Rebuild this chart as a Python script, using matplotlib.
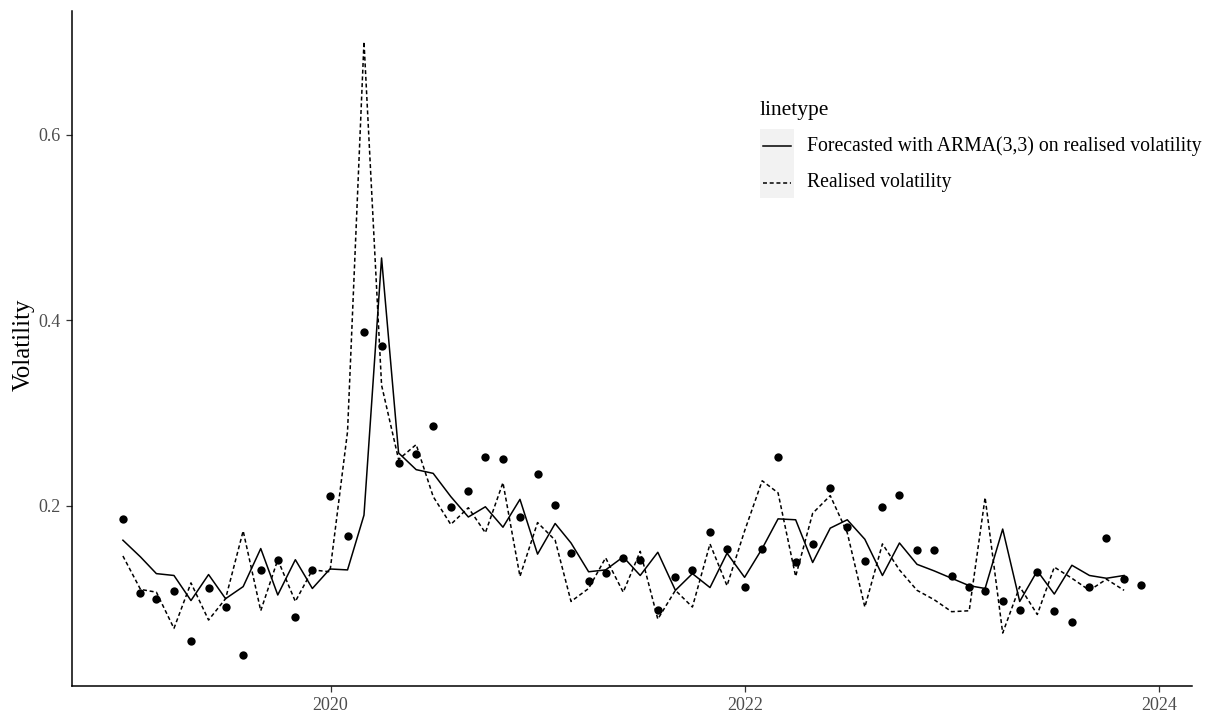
import numpy as np
import pandas as pd
import matplotlib
matplotlib.use("Agg")
import matplotlib.pyplot as plt
import matplotlib.patches as mpatches
from matplotlib.lines import Line2D

# monthly observations, month-end dates
dates = pd.date_range("2018-12-31", periods=60, freq="ME")

# observed volatility (points)
observed = [
    0.186, 0.106, 0.100, 0.108, 0.054, 0.111, 0.091, 0.039, 0.131, 0.142,
    0.080, 0.131, 0.211, 0.168, 0.387, 0.372, 0.246, 0.256, 0.286, 0.199,
    0.216, 0.253, 0.250, 0.188, 0.234, 0.201, 0.149, 0.119, 0.128, 0.144,
    0.142, 0.088, 0.123, 0.131, 0.172, 0.154, 0.113, 0.154, 0.253, 0.139,
    0.159, 0.219, 0.177, 0.141, 0.199, 0.212, 0.152, 0.152, 0.124, 0.113,
    0.108, 0.097, 0.088, 0.129, 0.087, 0.075, 0.113, 0.165, 0.121, 0.115,
]

# ARMA(3,3) forecast (solid)
forecast = [
    0.163, 0.145, 0.127, 0.125, 0.098, 0.126, 0.100, 0.113, 0.154, 0.104,
    0.142, 0.111, 0.132, 0.131, 0.190, 0.467, 0.257, 0.239, 0.235, 0.210,
    0.188, 0.199, 0.177, 0.207, 0.148, 0.181, 0.160, 0.129, 0.131, 0.145,
    0.125, 0.150, 0.109, 0.127, 0.112, 0.149, 0.123, 0.154, 0.186, 0.185,
    0.139, 0.176, 0.185, 0.164, 0.125, 0.160, 0.137, 0.130, 0.122, 0.114,
    0.111, 0.175, 0.097, 0.130, 0.105, 0.136, 0.125, 0.122, 0.125,
]

# realised volatility (dashed)
realised = [
    0.146, 0.110, 0.107, 0.068, 0.117, 0.077, 0.100, 0.173, 0.087, 0.142,
    0.097, 0.131, 0.129, 0.280, 0.700, 0.330, 0.250, 0.266, 0.210, 0.180,
    0.198, 0.171, 0.225, 0.124, 0.182, 0.163, 0.097, 0.111, 0.144, 0.107,
    0.151, 0.078, 0.109, 0.091, 0.159, 0.114, 0.173, 0.227, 0.214, 0.124,
    0.192, 0.211, 0.171, 0.091, 0.159, 0.131, 0.109, 0.099, 0.086, 0.087,
    0.209, 0.063, 0.113, 0.083, 0.134, 0.122, 0.109, 0.121, 0.109,
]

line_labels = ["Forecasted with ARMA(3,3) on realised volatility", "Realised volatility"]

plt.rcParams["font.family"] = ["Liberation Serif", "DejaVu Serif"]
TICK_COL = "#4D4D4D"
DASH = (0, (2.6, 1.8))

W, H = 1210, 715
fig = plt.figure(figsize=(W / 100, H / 100), dpi=100)
ax = fig.add_axes([72 / W, 1 - 686 / H, 1120 / W, 675 / H])

ax.plot(dates[:len(forecast)], forecast, color="black", lw=1.1)
ax.plot(dates[:len(realised)], realised, color="black", lw=1.1, linestyle=DASH)
ax.scatter(dates, observed, s=36, color="black", zorder=3, linewidths=0)

# ggplot-style 5% expansion on both axes
xnum = matplotlib.dates.date2num(dates)
xpad = (xnum[-1] - xnum[0]) * 0.05
ax.set_xlim(xnum[0] - xpad, xnum[-1] + xpad)
allv = np.concatenate([observed, forecast, realised])
ypad = (allv.max() - allv.min()) * 0.05
ax.set_ylim(allv.min() - ypad, allv.max() + ypad)

ax.set_xticks(matplotlib.dates.date2num(pd.to_datetime(["2020-01-01", "2022-01-01", "2024-01-01"])))
ax.set_xticklabels(["2020", "2022", "2024"])
ax.set_yticks([0.2, 0.4, 0.6])
ax.set_yticklabels(["0.2", "0.4", "0.6"])

for side in ("top", "right"):
    ax.spines[side].set_visible(False)
for side in ("left", "bottom"):
    ax.spines[side].set_color("black")
    ax.spines[side].set_linewidth(1.1)
ax.tick_params(axis="both", colors="#333333", labelcolor=TICK_COL, labelsize=13,
               length=4, width=0.9, pad=4)

ax.set_ylabel("Volatility", fontsize=18, color="black")
ax.yaxis.set_label_coords(-0.033, 0.505)

# legend drawn in figure pixels
def fpos(x, y):
    return x / W, 1 - y / H

fig.text(*fpos(760, 115), "linetype", fontsize=15.5, ha="left", va="baseline")
kx, ky = fpos(760, 198)
fig.patches.append(mpatches.Rectangle((kx, ky), 34 / W, 69 / H, transform=fig.transFigure,
                                      facecolor="#F2F2F2", edgecolor="none", figure=fig))
for i, (lab, ls) in enumerate(zip(line_labels, ["-", DASH])):
    yc = 146 + 37 * i
    x0, y0 = fpos(763, yc)
    x1, _ = fpos(791, yc)
    fig.lines.append(Line2D([x0, x1], [y0, y0], transform=fig.transFigure,
                            color="black", lw=1.1, linestyle=ls, figure=fig))
    fig.text(*fpos(807, yc), lab, fontsize=14.2, ha="left", va="center")

fig.savefig("out.png", dpi=100, facecolor="white")
